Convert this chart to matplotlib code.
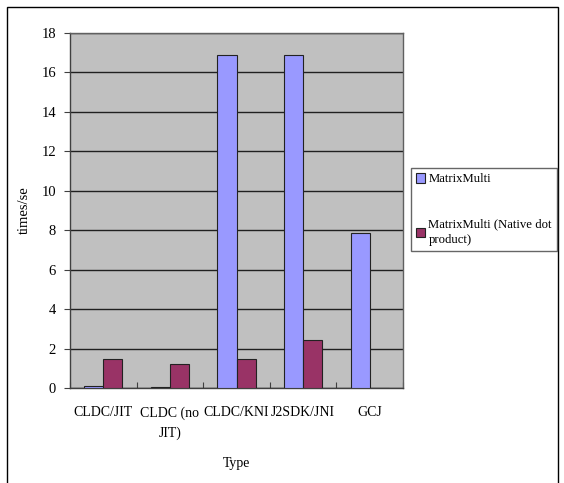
import numpy as np
import matplotlib
matplotlib.use("Agg")
import matplotlib.pyplot as plt
from matplotlib.patches import Rectangle

FONT_NAME = 'Liberation Serif'
TICK_FONT_SIZE = 10
LABEL_FONT_SIZE = 10
LEGEND_FONT_SIZE = 9.2
COLOR_MAP = ('#9999FF', '#993366')
PLOT_BG = '#C0C0C0'

categories = ['CLDC/JIT', 'CLDC (no\nJIT)', 'CLDC/KNI', 'J2SDK/JNI', 'GCJ']
series_labels = ['MatrixMulti', 'MatrixMulti (Native dot\nproduct)']
matrix_multi = [0.1, 0.05, 16.9, 16.9, 7.85]
native_dot = [1.45, 1.2, 1.45, 2.45, 0.0]
y_ticks = [0, 2, 4, 6, 8, 10, 12, 14, 16, 18]

matplotlib.rcParams['font.family'] = FONT_NAME


def main():
    fig = plt.figure(figsize=(5.64, 4.83), dpi=100)
    fig.patch.set_facecolor('white')
    # outer frame around the whole chart
    fig.patches.append(Rectangle((7 / 564, -0.01), 551 / 564, 1 - 7 / 483 + 0.01,
                                 transform=fig.transFigure, fill=False,
                                 edgecolor='black', linewidth=1.0))

    ax = fig.add_axes([70 / 564, 1 - 388 / 483, 333 / 564, 355 / 483])
    ax.set_facecolor(PLOT_BG)

    x = np.arange(len(categories))
    width = 1 / 3.5
    series = [matrix_multi, native_dot]
    bars = []
    for i, vals in enumerate(series):
        b = ax.bar(x + (i - 0.5) * width, vals, width, color=COLOR_MAP[i],
                   edgecolor='#222222', linewidth=0.8, zorder=3)
        bars.append(b)

    ax.set_xlim(-0.5, len(categories) - 0.5)
    ax.set_ylim(0, 18)
    ax.set_yticks(y_ticks)
    ax.yaxis.grid(True, color='#202020', linewidth=1.0, zorder=1)
    ax.set_axisbelow(True)

    ax.set_xticks(x)
    ax.set_xticklabels(categories, fontsize=TICK_FONT_SIZE, linespacing=1.7)
    ax.tick_params(axis='x', length=0, pad=13)
    ax.set_xticks(np.arange(len(categories) + 1) - 0.5, minor=True)
    ax.tick_params(axis='x', which='minor', direction='in', length=4,
                   color='#404040', width=0.8)
    ax.tick_params(axis='y', direction='out', length=4, color='#404040',
                   labelsize=TICK_FONT_SIZE + 0.5, pad=6)

    for s in ['left', 'bottom']:
        ax.spines[s].set_color('#404040')
        ax.spines[s].set_linewidth(1.0)
    for s in ['top', 'right']:
        ax.spines[s].set_color('#606060')
        ax.spines[s].set_linewidth(1.0)

    ax.set_ylabel('times/se', fontsize=LABEL_FONT_SIZE + 0.5, labelpad=8)
    ax.set_xlabel('Type', fontsize=LABEL_FONT_SIZE, labelpad=12)

    leg = fig.legend([b[0] for b in bars], series_labels,
                     loc='upper left',
                     bbox_to_anchor=(411 / 564, 1 - 168 / 483),
                     bbox_transform=fig.transFigure,
                     fontsize=LEGEND_FONT_SIZE, frameon=True, fancybox=False,
                     edgecolor='#404040', handlelength=0.7, handleheight=0.8,
                     handletextpad=0.25, labelspacing=2.6, borderpad=0.4,
                     borderaxespad=0)
    leg.get_frame().set_linewidth(1.0)
    for t in leg.get_texts():
        t.set_linespacing(1.4)

    fig.savefig('out.png', dpi=100)


if __name__ == "__main__":
    main()
